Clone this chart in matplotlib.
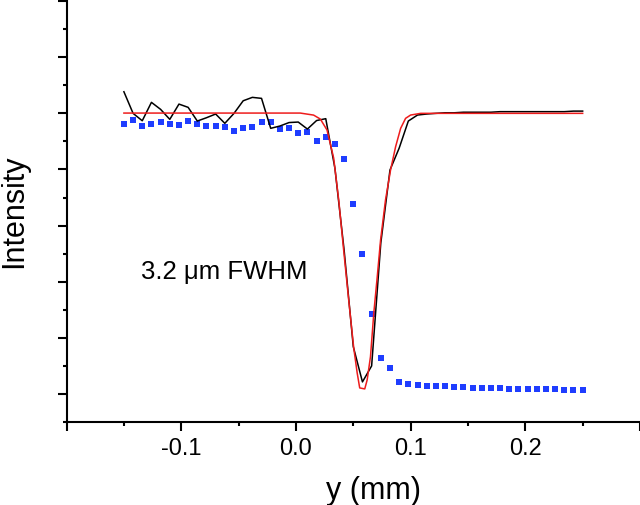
import numpy as np
import matplotlib
matplotlib.use('Agg')
import matplotlib.pyplot as plt
from matplotlib.ticker import FixedLocator, FixedFormatter, MultipleLocator, NullFormatter

plt.rcParams['font.family'] = ['Liberation Sans', 'DejaVu Sans']

# datos medidos: malla de 0.008 mm desde -0.15 hasta 0.25
y_mm = np.round(np.arange(51) * 0.008 - 0.15, 4)

intensidad_negra = [
    5.385, 5.000, 4.868, 5.196, 5.071, 4.893, 5.165, 5.107, 4.863, 4.922,
    4.988, 4.822, 5.000, 5.224, 5.285, 5.267, 4.733, 4.774, 4.836, 4.845,
    4.720, 4.872, 4.905, 4.020, 2.565, 0.843, 0.214, 0.499, 2.690, 3.990,
    4.380, 4.863, 4.970, 4.988, 5.000, 5.010, 5.010, 5.020, 5.020, 5.020,
    5.020, 5.030, 5.030, 5.030, 5.030, 5.030, 5.030, 5.030, 5.030, 5.040,
    5.040,
]

intensidad_azul = [
    4.809, 4.881, 4.779, 4.809, 4.845, 4.809, 4.792, 4.863, 4.815, 4.779,
    4.779, 4.751, 4.685, 4.743, 4.761, 4.840, 4.845, 4.715, 4.733, 4.644,
    4.662, 4.507, 4.587, 4.453, 4.186, 3.379, 2.488, 1.420, 0.647, 0.468,
    0.208, 0.175, 0.155, 0.148, 0.142, 0.137, 0.119, 0.119, 0.112, 0.112,
    0.107, 0.102, 0.094, 0.094, 0.084, 0.084, 0.084, 0.084, 0.071, 0.071,
    0.071,
]

# ajuste (curva roja)
ajuste_x = [-0.150, 0.0038, 0.0154, 0.0213, 0.0271, 0.0329, 0.0373, 0.0416,
            0.0460, 0.0504, 0.0534, 0.0556, 0.0600, 0.0621, 0.0650, 0.0679,
            0.0709, 0.0738, 0.0781, 0.0825, 0.0869, 0.0913, 0.0956, 0.1000,
            0.1088, 0.250]
ajuste_y = [5.005, 5.005, 4.969, 4.898, 4.703, 4.204, 3.456, 2.565,
            1.674, 0.819, 0.374, 0.107, 0.089, 0.249, 0.664, 1.443,
            2.089, 2.743, 3.456, 3.990, 4.405, 4.733, 4.911, 4.970,
            5.000, 5.000]

etiquetas_x = ['', '-0.1', '0.0', '0.1', '0.2', '']
ticks_x = [-0.2, -0.1, 0.0, 0.1, 0.2, 0.3]

fig = plt.figure(figsize=(6.4, 5.05), dpi=100)
ax = fig.add_axes([0.104, 0.1644, 0.896, 0.8356])

ax.plot(y_mm, intensidad_azul, linestyle='none', marker='s', markersize=3.8,
        color='#1f3dff', markeredgewidth=0)
ax.plot(y_mm, intensidad_negra, color='black', linewidth=1.1)
ax.plot(ajuste_x, ajuste_y, color='#ee1c1c', linewidth=1.1)

ax.set_xlim(-0.2, 0.3)
ax.set_ylim(-0.5, 7.02)

ax.xaxis.set_major_locator(FixedLocator(ticks_x))
ax.xaxis.set_major_formatter(FixedFormatter(etiquetas_x))
ax.xaxis.set_minor_locator(MultipleLocator(0.05))
ax.yaxis.set_major_locator(MultipleLocator(1.0))
ax.yaxis.set_minor_locator(MultipleLocator(0.5))
ax.yaxis.set_major_formatter(NullFormatter())

ax.tick_params(which='both', direction='out', width=1.5, labelsize=17)
ax.tick_params(which='major', length=6.5, pad=5)
ax.tick_params(which='minor', length=3)

for lado in ['top', 'right']:
    ax.spines[lado].set_visible(False)
for lado in ['left', 'bottom']:
    ax.spines[lado].set_linewidth(1.5)

ax.set_xlabel('y (mm)', fontsize=22)
ax.set_ylabel('Intensity', fontsize=22)
ax.xaxis.set_label_coords(0.535, -0.128)
ax.yaxis.set_label_coords(-0.066, 0.5)

ax.text(-0.1355, 2.04, '3.2 μm FWHM', fontsize=18.5, va='baseline', ha='left')

fig.savefig('out.png', dpi=100)
